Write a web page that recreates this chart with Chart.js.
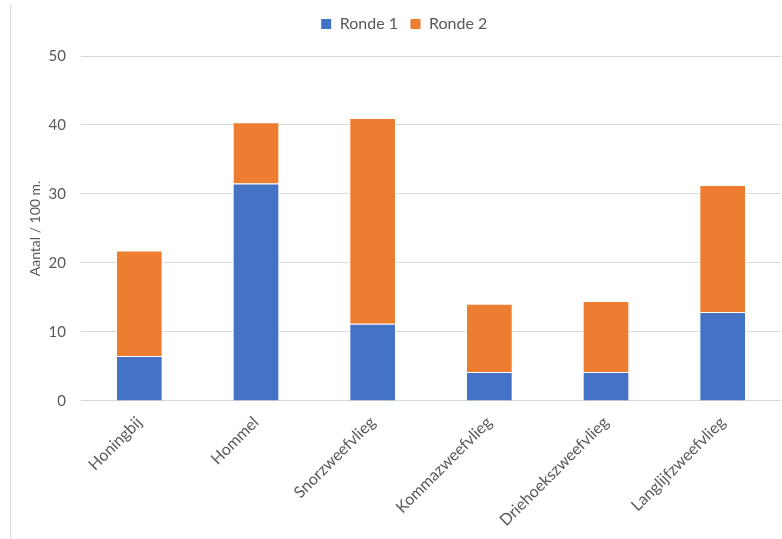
<!DOCTYPE html>
<html lang="nl">
  <head>
    <meta charset="UTF-8" />
    <title>Aantal per 100 m.</title>
    <script src="https://cdn.jsdelivr.net/npm/chart.js@4"></script>
    <style>
      body {
        margin: 0;
        background: #fff;
      }
      #wrap {
        position: relative;
        width: 782px;
        height: 539px;
      }
      #edge {
        position: absolute;
        left: 10px;
        top: 5px;
        width: 1px;
        height: 534px;
        background: #d9d9d9;
      }
    </style>
  </head>
  <body>
    <div id="wrap">
      <div id="edge"></div>
      <canvas id="chart"></canvas>
    </div>

    <script>
      const categories = [
        "Honingbij",
        "Hommel",
        "Snorzweefvlieg",
        "Kommazweefvlieg",
        "Driehoekszweefvlieg",
        "Langlijfzweefvlieg",
      ];
      const ronde1 = [6.5, 31.5, 11.2, 4.2, 4.2, 12.9];
      const ronde2 = [15.3, 8.9, 29.8, 9.9, 10.3, 18.4];
      const yTicks = [0, 10, 20, 30, 40, 50];

      const font = "Lato, 'Open Sans', sans-serif";

      // extra room between legend and plot area
      const legendGap = {
        id: "legendGap",
        beforeInit(chart) {
          const fit = chart.legend.fit;
          chart.legend.fit = function () {
            fit.bind(chart.legend)();
            this.height += 14;
          };
        },
      };

      const data = {
        labels: categories,
        datasets: [
          {
            label: "Ronde 1",
            data: ronde1,
            backgroundColor: "#4472C4",
            borderColor: "#ffffff",
            borderWidth: 1,
          },
          {
            label: "Ronde 2",
            data: ronde2,
            backgroundColor: "#ED7D31",
            borderColor: "#ffffff",
            borderWidth: 1,
          },
        ],
      };

      const config = {
        type: "bar",
        data: data,
        plugins: [legendGap],
        options: {
          responsive: true,
          maintainAspectRatio: false,
          animation: false,
          layout: { padding: { left: 27, right: 1, top: 4, bottom: 5 } },
          datasets: {
            bar: { categoryPercentage: 1, barPercentage: 0.4 },
          },
          plugins: {
            legend: {
              position: "top",
              labels: {
                boxWidth: 11,
                boxHeight: 11,
                padding: 12,
                color: "#595959",
                font: { family: font, size: 16 },
              },
            },
            tooltip: { enabled: false },
          },
          scales: {
            x: {
              stacked: true,
              grid: { display: false },
              border: { display: false },
              ticks: {
                color: "#595959",
                font: { family: font, size: 16 },
                maxRotation: 45,
                minRotation: 45,
                padding: 4,
              },
            },
            y: {
              stacked: true,
              min: yTicks[0],
              max: yTicks[yTicks.length - 1],
              afterBuildTicks: (axis) => {
                axis.ticks = yTicks.map((v) => ({ value: v }));
              },
              afterFit: (axis) => {
                axis.width = 54;
              },
              grid: { color: "#d9d9d9", drawTicks: false },
              border: { display: false },
              ticks: {
                color: "#595959",
                font: { family: font, size: 15 },
                padding: 15,
              },
              title: {
                display: true,
                text: "Aantal / 100 m.",
                color: "#595959",
                font: { family: font, size: 14 },
                padding: { top: 0, bottom: 4 },
              },
            },
          },
        },
      };

      const chart = new Chart(document.getElementById("chart"), config);
    </script>
  </body>
</html>
